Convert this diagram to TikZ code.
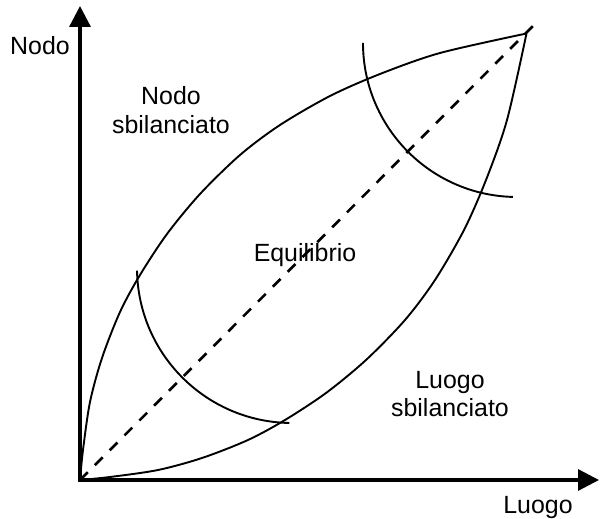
\documentclass[tikz,border=0pt]{standalone}
\usepackage{fontspec}
\setmainfont{Liberation Sans}
\usetikzlibrary{arrows.meta}
\begin{document}
\begin{tikzpicture}[x=1bp,y=1bp,
  axis/.style={line width=3.3bp, line join=miter, {Triangle[length=21bp,width=21bp]}-{Triangle[length=21bp,width=21bp]}},
  curve/.style={line width=1.9bp},
  diag/.style={line width=2.6bp, dash pattern=on 11bp off 10bp},
  lbl/.style={font=\fontsize{25}{28.5}\selectfont, inner sep=0pt, align=center}]
\useasboundingbox (-80,-39) rectangle (520,480);
\coordinate (O) at (0,0);
\coordinate (T) at (446.5,446.5);
\coordinate (D) at (453,454);
\coordinate (Ytip) at (0,474);
\coordinate (Xtip) at (519,0);
% axes
\draw[axis] (Ytip) -- (O) -- (Xtip);
% upper curve (Nodo side)
\draw[curve] plot[smooth, tension=0.5] coordinates {(0,0) (3,30) (10,78) (22,122) (40,168) (60,205) (87,246) (120,286) (160,325) (200,355) (250,384) (300,406) (360,427) (446.5,446.5)};
% lower curve (Luogo side)
\draw[curve] plot[smooth, tension=0.5] coordinates {(0,0) (30,3) (78,10) (122,22) (168,40) (205,60) (246,87) (286,120) (325,160) (355,200) (384,250) (406,300) (427,360) (446.5,446.5)};
% equilibrium diagonal
\draw[diag] (O) -- (D);
% arcs
\draw[curve] (212,212) ++(181:155) arc[start angle=181, end angle=269, radius=155];
\draw[curve] (437,437) ++(180:154) arc[start angle=180, end angle=268.5, radius=154];
% labels
\node[lbl, anchor=base] (ny) at (-40,425) {Nodo};
\node[lbl, anchor=base] (lx) at (458,-34) {Luogo};
\node[lbl] (ns) at (91,370) {Nodo\\sbilanciato};
\node[lbl, anchor=base] (eq) at (225,218) {Equilibrio};
\node[lbl] (ls) at (370,86) {Luogo\\sbilanciato};
\end{tikzpicture}
\end{document}
